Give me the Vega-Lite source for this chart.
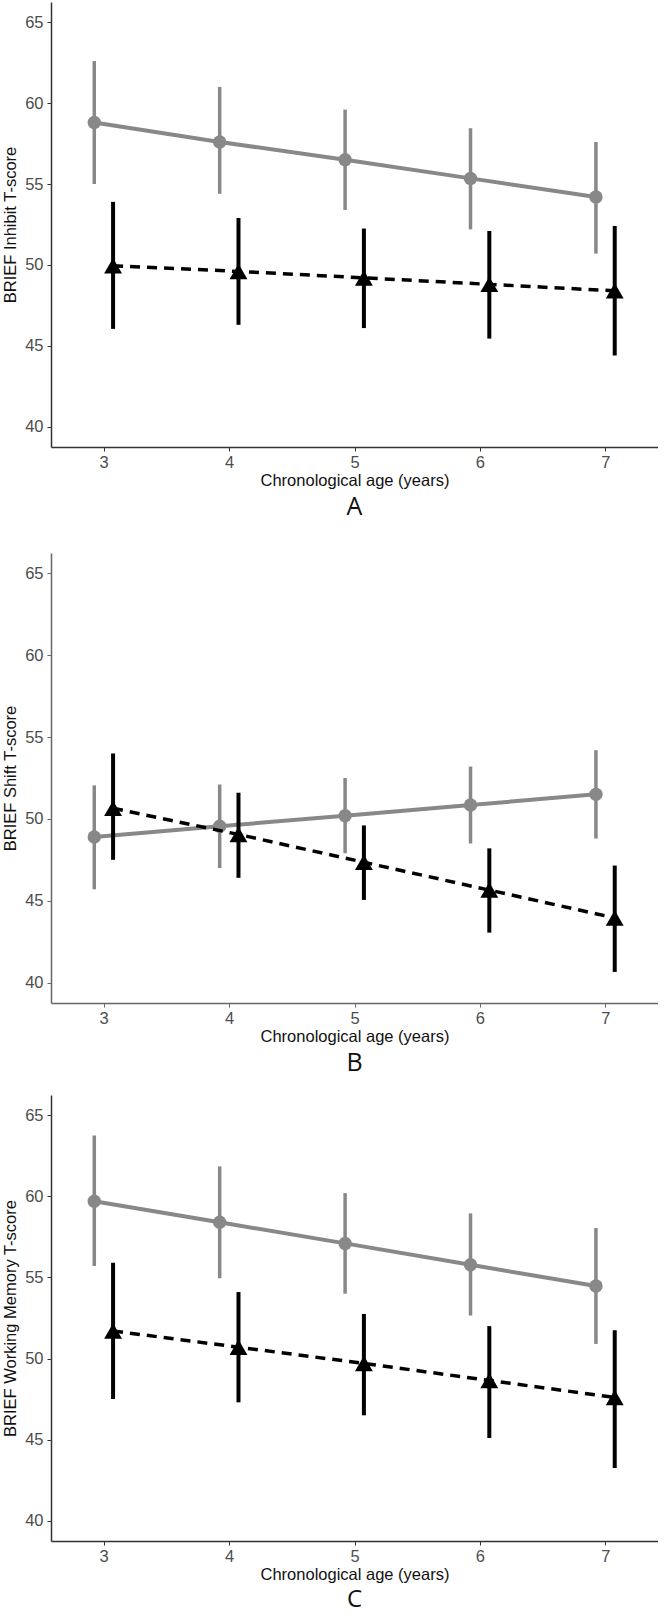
{
  "$schema": "https://vega.github.io/schema/vega-lite/v6.json",
  "background": "white",
  "padding": {"left": 2, "top": 2, "right": 0, "bottom": 0},
  "config": {
    "view": {"stroke": null},
    "font": "Liberation Sans",
    "axis": {
      "grid": false,
      "domainColor": "#333333",
      "domainWidth": 1.5,
      "tickColor": "#333333",
      "tickSize": 4,
      "labelColor": "#4d4d4d",
      "labelFont": "Liberation Sans",
      "labelFontSize": 16.5,
      "titleFont": "Liberation Sans",
      "titleFontSize": 16.5,
      "titleFontWeight": "normal",
      "titleColor": "#111111"
    },
    "title": {"font": "Open Sans", "fontSize": 25, "fontWeight": "normal", "color": "#111111", "orient": "bottom", "anchor": "middle", "offset": 6}
  },
  "datasets": {
    "inhibit": [
      {"age": 3, "group": "Group 1", "mean": 58.8, "lo": 55.0, "hi": 62.6},
      {"age": 4, "group": "Group 1", "mean": 57.6, "lo": 54.4, "hi": 61.0},
      {"age": 5, "group": "Group 1", "mean": 56.5, "lo": 53.4, "hi": 59.6},
      {"age": 6, "group": "Group 1", "mean": 55.35, "lo": 52.2, "hi": 58.45},
      {"age": 7, "group": "Group 1", "mean": 54.2, "lo": 50.7, "hi": 57.6},
      {"age": 3, "group": "Group 2", "mean": 49.95, "lo": 46.05, "hi": 53.9},
      {"age": 4, "group": "Group 2", "mean": 49.6, "lo": 46.3, "hi": 52.9},
      {"age": 5, "group": "Group 2", "mean": 49.2, "lo": 46.1, "hi": 52.25},
      {"age": 6, "group": "Group 2", "mean": 48.8, "lo": 45.45, "hi": 52.1},
      {"age": 7, "group": "Group 2", "mean": 48.4, "lo": 44.4, "hi": 52.4}
    ],
    "shift": [
      {"age": 3, "group": "Group 1", "mean": 48.9, "lo": 45.7, "hi": 52.05},
      {"age": 4, "group": "Group 1", "mean": 49.55, "lo": 47.0, "hi": 52.1},
      {"age": 5, "group": "Group 1", "mean": 50.2, "lo": 47.9, "hi": 52.5},
      {"age": 6, "group": "Group 1", "mean": 50.85, "lo": 48.5, "hi": 53.2},
      {"age": 7, "group": "Group 1", "mean": 51.5, "lo": 48.8, "hi": 54.2},
      {"age": 3, "group": "Group 2", "mean": 50.65, "lo": 47.5, "hi": 54.0},
      {"age": 4, "group": "Group 2", "mean": 49.05, "lo": 46.4, "hi": 51.6},
      {"age": 5, "group": "Group 2", "mean": 47.35, "lo": 45.05, "hi": 49.6},
      {"age": 6, "group": "Group 2", "mean": 45.65, "lo": 43.05, "hi": 48.2},
      {"age": 7, "group": "Group 2", "mean": 43.95, "lo": 40.65, "hi": 47.15}
    ],
    "wm": [
      {"age": 3, "group": "Group 1", "mean": 59.7, "lo": 55.7, "hi": 63.75},
      {"age": 4, "group": "Group 1", "mean": 58.4, "lo": 54.95, "hi": 61.85},
      {"age": 5, "group": "Group 1", "mean": 57.1, "lo": 54.0, "hi": 60.2},
      {"age": 6, "group": "Group 1", "mean": 55.78, "lo": 52.65, "hi": 58.95},
      {"age": 7, "group": "Group 1", "mean": 54.47, "lo": 50.9, "hi": 58.05},
      {"age": 3, "group": "Group 2", "mean": 51.7, "lo": 47.5, "hi": 55.9},
      {"age": 4, "group": "Group 2", "mean": 50.7, "lo": 47.3, "hi": 54.1},
      {"age": 5, "group": "Group 2", "mean": 49.7, "lo": 46.5, "hi": 52.75},
      {"age": 6, "group": "Group 2", "mean": 48.65, "lo": 45.1, "hi": 52.0},
      {"age": 7, "group": "Group 2", "mean": 47.6, "lo": 43.25, "hi": 51.75}
    ]
  },
  "spacing": 33,
  "vconcat": [
    {
      "width": 607,
      "height": 445,
      "data": {"name": "inhibit"},
      "title": {"text": "A"},
      "encoding": {
        "x": {"field": "age", "type": "quantitative", "scale": {"domain": [2.58, 7.42], "nice": false, "zero": false}, "axis": {"values": [3, 4, 5, 6, 7], "title": "Chronological age (years)", "labelPadding": 3, "titlePadding": 2}},
        "y": {"field": "mean", "type": "quantitative", "scale": {"domain": [38.75, 66.25], "nice": false, "zero": false}, "axis": {"values": [40, 45, 50, 55, 60, 65], "title": "BRIEF Inhibit  T-score", "labelPadding": 4, "titlePadding": 6}}
      },
      "layer": [
        {"transform": [{"filter": "datum.group === 'Group 1'"}], "mark": {"type": "rule", "color": "#888888", "strokeWidth": 3.5, "xOffset": -9.4}, "encoding": {"y": {"field": "lo", "type": "quantitative"}, "y2": {"field": "hi"}}},
        {"transform": [{"filter": "datum.group === 'Group 1'"}], "mark": {"type": "line", "color": "#888888", "strokeWidth": 4, "xOffset": -9.4}, "encoding": {}},
        {"transform": [{"filter": "datum.group === 'Group 1'"}], "mark": {"type": "point", "shape": "circle", "filled": true, "opacity": 1, "color": "#888888", "size": 180, "xOffset": -9.4}, "encoding": {}},
        {"transform": [{"filter": "datum.group === 'Group 2'"}], "mark": {"type": "rule", "color": "#000000", "strokeWidth": 4, "xOffset": 9.4}, "encoding": {"y": {"field": "lo", "type": "quantitative"}, "y2": {"field": "hi"}}},
        {"transform": [{"filter": "datum.group === 'Group 2'"}], "mark": {"type": "line", "color": "#000000", "strokeWidth": 3.5, "strokeDash": [10, 7], "xOffset": 9.4}, "encoding": {}},
        {"transform": [{"filter": "datum.group === 'Group 2'"}], "mark": {"type": "point", "shape": "triangle-up", "filled": true, "opacity": 1, "color": "#000000", "size": 320, "xOffset": 9.4}, "encoding": {}}
      ]
    },
    {
      "spacing": 19,
      "vconcat": [
        {
          "width": 607,
          "height": 450,
          "data": {"name": "shift"},
          "title": {"text": "B"},
          "encoding": {
            "x": {"field": "age", "type": "quantitative", "scale": {"domain": [2.58, 7.42], "nice": false, "zero": false}, "axis": {"values": [3, 4, 5, 6, 7], "title": "Chronological age (years)", "labelPadding": 3, "titlePadding": 2, "domainColor": "#666666", "tickColor": "#666666"}},
            "y": {"field": "mean", "type": "quantitative", "scale": {"domain": [38.75, 66.25], "nice": false, "zero": false}, "axis": {"values": [40, 45, 50, 55, 60, 65], "title": "BRIEF Shift  T-score", "labelPadding": 4, "titlePadding": 6, "domainColor": "#666666", "tickColor": "#666666"}}
          },
          "layer": [
            {"transform": [{"filter": "datum.group === 'Group 1'"}], "mark": {"type": "rule", "color": "#888888", "strokeWidth": 3.5, "xOffset": -9.4}, "encoding": {"y": {"field": "lo", "type": "quantitative"}, "y2": {"field": "hi"}}},
            {"transform": [{"filter": "datum.group === 'Group 1'"}], "mark": {"type": "line", "color": "#888888", "strokeWidth": 4, "xOffset": -9.4}, "encoding": {}},
            {"transform": [{"filter": "datum.group === 'Group 1'"}], "mark": {"type": "point", "shape": "circle", "filled": true, "opacity": 1, "color": "#888888", "size": 180, "xOffset": -9.4}, "encoding": {}},
            {"transform": [{"filter": "datum.group === 'Group 2'"}], "mark": {"type": "rule", "color": "#000000", "strokeWidth": 4, "xOffset": 9.4}, "encoding": {"y": {"field": "lo", "type": "quantitative"}, "y2": {"field": "hi"}}},
            {"transform": [{"filter": "datum.group === 'Group 2'"}], "mark": {"type": "line", "color": "#000000", "strokeWidth": 3.5, "strokeDash": [10, 7], "xOffset": 9.4}, "encoding": {}},
            {"transform": [{"filter": "datum.group === 'Group 2'"}], "mark": {"type": "point", "shape": "triangle-up", "filled": true, "opacity": 1, "color": "#000000", "size": 320, "xOffset": 9.4}, "encoding": {}}
          ]
        },
        {
          "width": 607,
          "height": 446,
          "data": {"name": "wm"},
          "title": {"text": "C", "offset": 5, "fontSize": 24},
          "encoding": {
            "x": {"field": "age", "type": "quantitative", "scale": {"domain": [2.58, 7.42], "nice": false, "zero": false}, "axis": {"values": [3, 4, 5, 6, 7], "title": "Chronological age (years)", "labelPadding": 3, "titlePadding": 2}},
            "y": {"field": "mean", "type": "quantitative", "scale": {"domain": [38.75, 66.25], "nice": false, "zero": false}, "axis": {"values": [40, 45, 50, 55, 60, 65], "title": "BRIEF Working Memory  T-score", "labelPadding": 4, "titlePadding": 6}}
          },
          "layer": [
            {"transform": [{"filter": "datum.group === 'Group 1'"}], "mark": {"type": "rule", "color": "#888888", "strokeWidth": 3.5, "xOffset": -9.4}, "encoding": {"y": {"field": "lo", "type": "quantitative"}, "y2": {"field": "hi"}}},
            {"transform": [{"filter": "datum.group === 'Group 1'"}], "mark": {"type": "line", "color": "#888888", "strokeWidth": 4, "xOffset": -9.4}, "encoding": {}},
            {"transform": [{"filter": "datum.group === 'Group 1'"}], "mark": {"type": "point", "shape": "circle", "filled": true, "opacity": 1, "color": "#888888", "size": 180, "xOffset": -9.4}, "encoding": {}},
            {"transform": [{"filter": "datum.group === 'Group 2'"}], "mark": {"type": "rule", "color": "#000000", "strokeWidth": 4, "xOffset": 9.4}, "encoding": {"y": {"field": "lo", "type": "quantitative"}, "y2": {"field": "hi"}}},
            {"transform": [{"filter": "datum.group === 'Group 2'"}], "mark": {"type": "line", "color": "#000000", "strokeWidth": 3.5, "strokeDash": [10, 7], "xOffset": 9.4}, "encoding": {}},
            {"transform": [{"filter": "datum.group === 'Group 2'"}], "mark": {"type": "point", "shape": "triangle-up", "filled": true, "opacity": 1, "color": "#000000", "size": 320, "xOffset": 9.4}, "encoding": {}}
          ]
        }
      ]
    }
  ]
}
